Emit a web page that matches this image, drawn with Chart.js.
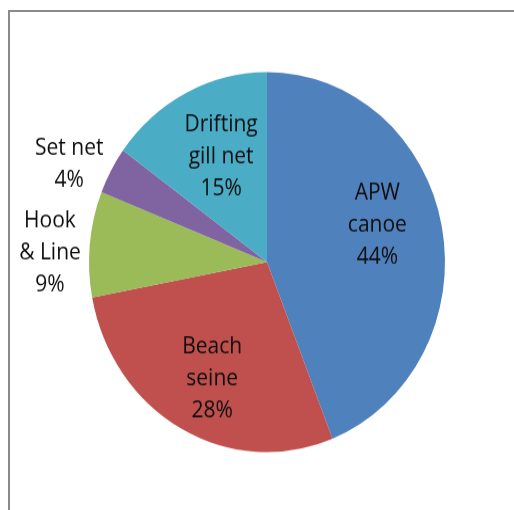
<!DOCTYPE html>
<html>
<head>
<meta charset="utf-8">
<script src="https://cdn.jsdelivr.net/npm/chart.js@4/dist/chart.umd.min.js"></script>
<style>
  html, body { margin: 0; padding: 0; background: #fff; overflow: hidden; }
  #wrap { position: relative; width: 514px; height: 510px; }
  #frame {
    position: absolute; left: 8px; top: 10px; width: 520px; height: 520px;
    border-left: 2px solid #8a8a8a; border-top: 2px solid #8a8a8a;
  }
  /* pie is drawn slightly taller than wide */
  #chart { position: absolute; left: 0; top: 0; transform: scaleY(1.0674); transform-origin: 0 0; }
</style>
</head>
<body>
<div id="wrap">
  <div id="frame"></div>
  <canvas id="chart" width="514" height="478"></canvas>
</div>
<script>
const categories = [["APW", "canoe"], ["Beach", "seine"], ["Hook", "& Line"], ["Set net"], ["Drifting", "gill net"]];
const shares = [44, 28, 9, 4, 15];
const colors = ["#4f81bd", "#c0504d", "#9bbb59", "#8064a2", "#4bacc6"];

// where each label sits: fraction of the radius and a small turn (degrees) off the slice middle
const labelSpots = [
  { r: 0.65, turn: -6.7 },
  { r: 0.69, turn: -2.3 },
  { r: 1.22, turn: -3.2 },
  { r: 1.225, turn: -3.9 },
  { r: 0.61, turn: 2 }
];

const sliceLabels = {
  id: "sliceLabels",
  afterDatasetsDraw(chart) {
    const ctx = chart.ctx;
    const meta = chart.getDatasetMeta(0);
    const values = chart.data.datasets[0].data;
    const total = values.reduce((a, b) => a + b, 0);
    const lineH = 30;
    ctx.save();
    ctx.font = "21px 'Open Sans'";
    ctx.fillStyle = "#0d0d0d";
    ctx.textAlign = "center";
    ctx.textBaseline = "middle";
    meta.data.forEach((arc, i) => {
      const p = arc.getProps(["x", "y", "startAngle", "endAngle", "outerRadius"], true);
      const spot = labelSpots[i];
      const a = (p.startAngle + p.endAngle) / 2 + spot.turn * Math.PI / 180;
      const cx = p.x + Math.cos(a) * p.outerRadius * spot.r;
      const cy = p.y + Math.sin(a) * p.outerRadius * spot.r;
      const lines = [...chart.data.labels[i], Math.round(values[i] / total * 100) + "%"];
      const top = cy - (lines.length - 1) * lineH / 2;
      lines.forEach((t, k) => ctx.fillText(t, cx, top + k * lineH));
    });
    ctx.restore();
  }
};

new Chart(document.getElementById("chart"), {
  type: "pie",
  data: {
    labels: categories,
    datasets: [{
      data: shares,
      backgroundColor: colors,
      borderWidth: 0
    }]
  },
  options: {
    responsive: false,
    animation: false,
    layout: { padding: { left: 89, right: 69, top: 67.5, bottom: 54.5 } },
    plugins: {
      legend: { display: false },
      tooltip: { enabled: false }
    }
  },
  plugins: [sliceLabels]
});
</script>
</body>
</html>
